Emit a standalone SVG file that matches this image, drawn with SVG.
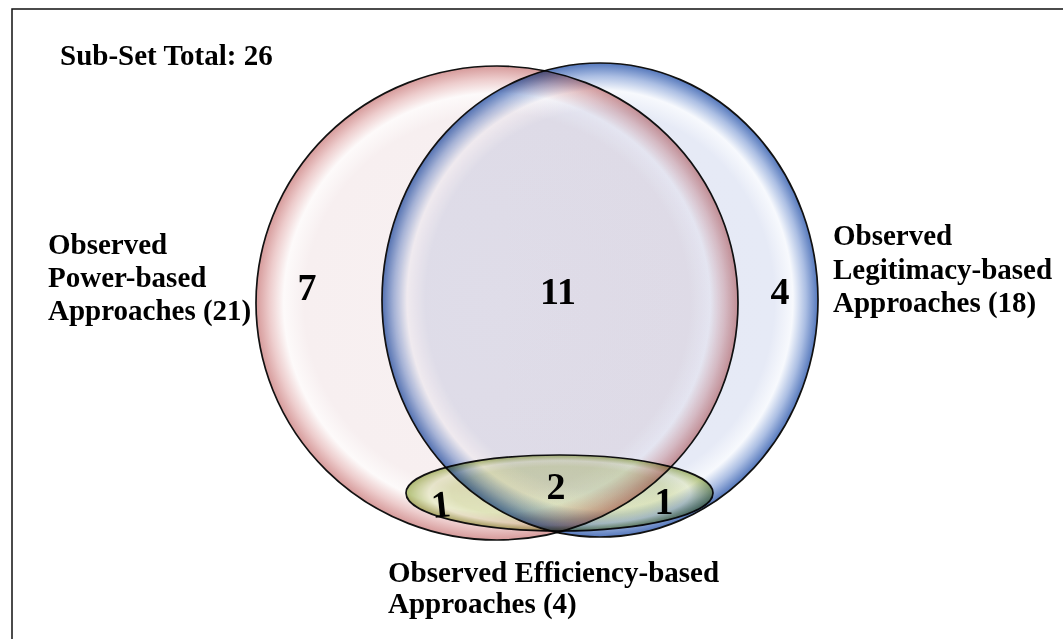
<svg xmlns="http://www.w3.org/2000/svg" width="1063" height="639" viewBox="0 0 1063 639">
<defs>
<style>
.lbl{font-family:"Liberation Serif","Times New Roman",serif;font-weight:bold;font-size:29px;fill:#000}
.num{font-family:"Liberation Serif","Times New Roman",serif;font-weight:bold;font-size:38px;fill:#000;text-anchor:middle}
.edge{stroke:#111;stroke-width:1.7}
.mul{mix-blend-mode:multiply}
</style>
<radialGradient id="gRed" cx="0.5" cy="0.5" r="0.5">
<stop offset="0" stop-color="#f8f1f2"/>
<stop offset="0.8" stop-color="#f7eff0"/>
<stop offset="0.885" stop-color="#fdfafa"/>
<stop offset="0.945" stop-color="#edcccc"/>
<stop offset="1" stop-color="#d69a9a"/>
</radialGradient>
<radialGradient id="gBlue" cx="0.5" cy="0.5" r="0.5">
<stop offset="0" stop-color="#e6e9f5"/>
<stop offset="0.8" stop-color="#e6eaf6"/>
<stop offset="0.885" stop-color="#f7f9fd"/>
<stop offset="0.945" stop-color="#abbee3"/>
<stop offset="1" stop-color="#5578bc"/>
</radialGradient>
<radialGradient id="gGreen" cx="0.5" cy="0.5" r="0.5">
<stop offset="0" stop-color="#e6ecc8"/>
<stop offset="0.7" stop-color="#e2e9bf"/>
<stop offset="0.85" stop-color="#eef2d6"/>
<stop offset="1" stop-color="#b2c277"/>
</radialGradient>
</defs>
<rect id="frame" x="12" y="9" width="1070" height="650" fill="#fff" stroke="#111" stroke-width="1.5"/>
<g id="title"><text class="lbl" x="60" y="65">Sub-Set Total: 26</text></g>
<g id="power">
<ellipse cx="497" cy="303" rx="241" ry="237" fill="url(#gRed)" class="edge"/>
</g>
<g id="legitimacy">
<ellipse class="edge mul" cx="600" cy="300" rx="218" ry="237" fill="url(#gBlue)"/>
</g>
<g id="efficiency">
<ellipse class="edge mul" cx="559.5" cy="493" rx="153.5" ry="38" fill="url(#gGreen)"/>
</g>
<g id="power-label">
<text class="lbl" x="48" y="254">Observed</text>
<text class="lbl" x="48" y="287">Power-based</text>
<text class="lbl" x="48" y="320">Approaches (21)</text>
</g>
<g id="legitimacy-label">
<text class="lbl" x="833" y="245">Observed</text>
<text class="lbl" x="833" y="279">Legitimacy-based</text>
<text class="lbl" x="833" y="312">Approaches (18)</text>
</g>
<g id="efficiency-label">
<text class="lbl" x="388" y="582">Observed Efficiency-based</text>
<text class="lbl" x="388" y="613">Approaches (4)</text>
</g>
<g id="counts">
<text class="num" x="307" y="300">7</text>
<text class="num" x="558" y="304">11</text>
<text class="num" x="780" y="304">4</text>
<text class="num" x="556" y="499">2</text>
<text class="num" x="441" y="517" transform="rotate(-6 441 505)">1</text>
<text class="num" x="664" y="514">1</text>
</g>
</svg>
